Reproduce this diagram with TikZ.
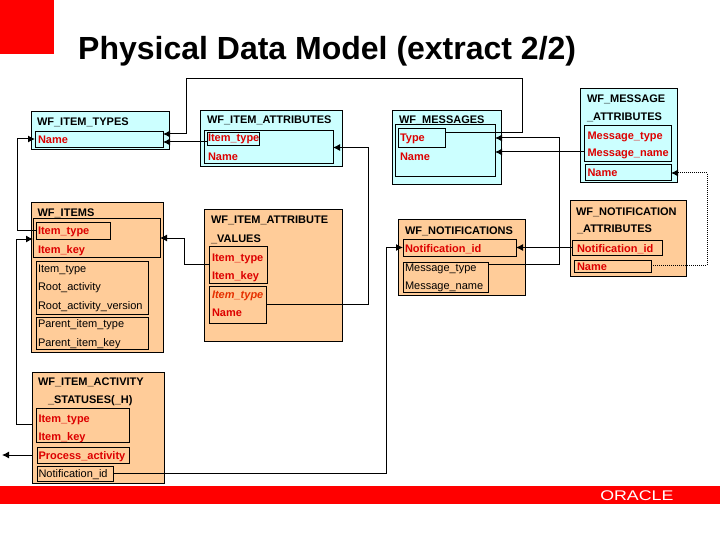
\documentclass[tikz,border=0pt]{standalone}
\usepackage{fontspec}
\setmainfont{Liberation Sans}
\usetikzlibrary{arrows.meta}
\definecolor{tblcyan}{HTML}{CCFFFF}
\definecolor{tblorange}{HTML}{FFCC99}
\definecolor{oracred}{HTML}{FF0000}
\definecolor{keyred}{HTML}{DD0000}
\definecolor{fkred}{HTML}{E63000}
\tikzset{
  tblbox/.style={draw,line width=1pt,inner sep=0,outer sep=0},
  cyantbl/.style={tblbox,fill=tblcyan},
  orangetbl/.style={tblbox,fill=tblorange},
  keybox/.style={tblbox},
  txt/.style={anchor=base west,inner sep=0,outer sep=0,font=\fontsize{11}{13}\selectfont},
  head/.style={txt,font=\fontsize{11}{13}\selectfont\bfseries},
  key/.style={txt,font=\fontsize{11}{13}\selectfont\bfseries,text=keyred},
  link/.style={line width=1pt,-{Latex[length=7pt,width=7pt]}}
}
\begin{document}
\begin{tikzpicture}[x=1pt,y=-1pt]
\useasboundingbox (0,0) rectangle (720,540);
% red corner and footer band
\fill[oracred] (0,0) rectangle (54,54);
\fill[oracred] (0,486) rectangle (720,504);
\node[anchor=base west,inner sep=0,text=white,font=\fontsize{14}{14}\selectfont,xscale=1.27] (logo) at (600,500) {ORACLE};
\node[anchor=base west,inner sep=0,font=\fontsize{32}{36}\selectfont] (title) at (78,60) {\textbf{Physical Data Model (extract 2/2)}};

% tables
\node[cyantbl,minimum width=138pt,minimum height=38pt] (types) at (100,131) {};
\node[cyantbl,minimum width=142pt,minimum height=56pt] (attrs) at (271,139) {};
\node[cyantbl,minimum width=109pt,minimum height=74pt] (msgs) at (446.5,148) {};
\node[cyantbl,minimum width=97pt,minimum height=94pt] (mattr) at (628.5,136) {};
\node[orangetbl,minimum width=132pt,minimum height=149pt] (items) at (97,277.5) {};
\node[orangetbl,minimum width=138pt,minimum height=131pt] (iav) at (273,275.5) {};
\node[orangetbl,minimum width=132pt,minimum height=111pt] (ias) at (98,427.5) {};
\node[orangetbl,minimum width=127pt,minimum height=75pt] (notif) at (461.5,257.5) {};
\node[orangetbl,minimum width=116pt,minimum height=75pt] (nattr) at (628,238.5) {};

% key groups
\node[keybox,minimum width=128pt,minimum height=16pt] (typesname) at (99,140) {};
\node[keybox,minimum width=129pt,minimum height=33pt] (attrkey) at (268.5,147.5) {};
\node[keybox,minimum width=52pt,minimum height=13pt] (attrtype) at (233,139.5) {};
\node[keybox,minimum width=127pt,minimum height=38pt] (itemspk) at (96.5,238) {};
\node[keybox,minimum width=74pt,minimum height=16pt] (itemstype) at (73,231) {};
\node[keybox,minimum width=112pt,minimum height=53pt] (itemsattr) at (92,287.5) {};
\node[keybox,minimum width=112pt,minimum height=32pt] (itemsparent) at (92,333) {};
\node[keybox,minimum width=58pt,minimum height=37pt] (iavkey) at (238,264.5) {};
\node[keybox,minimum width=57pt,minimum height=37pt] (iavattr) at (237.5,304.5) {};
\node[keybox,minimum width=93pt,minimum height=34pt] (iaskey) at (82.5,425) {};
\node[keybox,minimum width=92pt,minimum height=16pt] (iasproc) at (83,455) {};
\node[keybox,minimum width=76pt,minimum height=15pt] (iasnotif) at (75,473.5) {};
\node[keybox,minimum width=100pt,minimum height=52pt] (msgkey) at (445,151) {};
\node[keybox,minimum width=47pt,minimum height=19pt] (msgtype) at (421.5,138.5) {};
\node[keybox,minimum width=87pt,minimum height=36pt] (mattrkey) at (627.5,144) {};
\node[keybox,minimum width=86pt,minimum height=16pt] (mattrname) at (628,173) {};
\node[keybox,minimum width=90pt,minimum height=15pt] (nattrid) at (617,247.5) {};
\node[keybox,minimum width=77pt,minimum height=12pt] (nattrname) at (612.5,266) {};
\node[keybox,minimum width=113pt,minimum height=17pt] (notifid) at (459.5,247.5) {};
\node[keybox,minimum width=85pt,minimum height=30pt] (notifmsg) at (445.5,277) {};

% labels
\node[head] (typeshd) at (37,126) {WF\_ITEM\_TYPES};
\node[key] (typesnm) at (38,144) {Name};
\node[head] (attrshd) at (207,124) {WF\_ITEM\_ATTRIBUTES};
\node[key] (attrsit) at (208,142) {Item\_type};
\node[key] (attrsnm) at (208,161) {Name};
\node[head] (itemshd) at (37.5,216) {WF\_ITEMS};
\node[key] (itemsit) at (38,235) {Item\_type};
\node[key] (itemsik) at (38,253) {Item\_key};
\node[txt] (items1) at (38,272) {Item\_type};
\node[txt] (items2) at (38,290) {Root\_activity};
\node[txt] (items3) at (38,309) {Root\_activity\_version};
\node[txt] (items4) at (38,327) {Parent\_item\_type};
\node[txt] (items5) at (38,346) {Parent\_item\_key};
\node[head] (iavhd) at (211,224) {WF\_ITEM\_ATTRIBUTE};
\node[head] (iavhdb) at (211,242) {\_VALUES};
\node[key] (iavit) at (212,261) {Item\_type};
\node[key] (iavik) at (212,279) {Item\_key};
\node[key,text=fkred,font=\fontsize{11}{13}\selectfont\bfseries\itshape] (iavat) at (212,298) {Item\_type};
\node[key] (iavnm) at (212,316) {Name};
\node[head] (iashd) at (38,385) {WF\_ITEM\_ACTIVITY};
\node[head] (iashdb) at (48,403) {\_STATUSES(\_H)};
\node[key] (iasit) at (38.5,422) {Item\_type};
\node[key] (iasik) at (38.5,440) {Item\_key};
\node[key] (iaspa) at (38.5,459) {Process\_activity};
\node[txt] (iasni) at (38.5,477) {Notification\_id};
\node[head] (msgshd) at (399,124) {WF\_MESSAGES};
\node[key] (msgsty) at (400,142) {Type};
\node[key] (msgsnm) at (400,161) {Name};
\node[head] (mattrhd) at (587,103) {WF\_MESSAGE};
\node[head] (mattrhdb) at (587,121) {\_ATTRIBUTES};
\node[key] (mattrty) at (587.5,140) {Message\_type};
\node[key] (mattrmn) at (587.5,157) {Message\_name};
\node[key] (mattrnm) at (587.5,177) {Name};
\node[head] (nattrhd) at (576,215) {WF\_NOTIFICATION};
\node[head] (nattrhdb) at (577,233) {\_ATTRIBUTES};
\node[key] (nattrni) at (577,252) {Notification\_id};
\node[key] (nattrnm) at (577,270) {Name};
\node[head] (notifhd) at (405,234) {WF\_NOTIFICATIONS};
\node[key] (notifni) at (405,252) {Notification\_id};
\node[txt] (notifty) at (405,271) {Message\_type};
\node[txt] (notifmn) at (405,289) {Message\_name};

% bends
\coordinate (loopr) at (522,79);
\coordinate (loopl) at (186,79);
\coordinate (itemsl) at (17,231);
\coordinate (iasl) at (16,424);
\coordinate (iavl) at (184,264.5);
\coordinate (iavr) at (368,304.5);
\coordinate (procend) at (2,455);
\coordinate (notifl) at (386,473.5);
\coordinate (msgr) at (559,138);
\coordinate (dotr) at (707,265);

% connectors
\draw[link] ([yshift=5.5pt]msgtype.east) -| (loopr) -- (loopl) |- ([yshift=6pt]typesname.east);
\draw[link] ([yshift=-2.5pt]attrtype.west) -- ([yshift=-2pt]typesname.east);
\draw[link] (itemstype.west) -- (itemsl) |- ([yshift=1pt]typesname.west);
\draw[link] ([yshift=3.5pt]ias.west) -- (iasl) |- ([yshift=-1pt]itemspk.west);
\draw[link] (iavkey.west) -- (iavl) |- (itemspk.east);
\draw[link] (iavattr.east) -- (iavr) |- (attrkey.east);
\draw[link] ([yshift=-27.5pt]ias.west) -- (procend);
\draw[link] (iasnotif.east) -- (notifl) |- (notifid.west);
\draw[link] ([yshift=13pt]notifmsg.east) -| (msgr) -- ([yshift=13pt]msgkey.east);
\draw[link] ([yshift=-8pt]mattrkey.west) -- ([yshift=-1pt]msgkey.east);
\draw[link] (nattrid.west) -- (notifid.east);
\draw[link,densely dotted] ([yshift=1pt]nattrname.east) -- (dotr) |- (mattrname.east);
\end{tikzpicture}
\end{document}
